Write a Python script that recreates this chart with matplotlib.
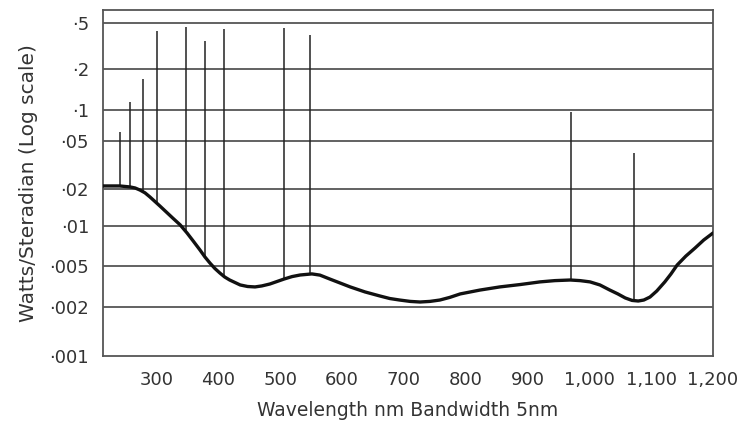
import numpy as np
import matplotlib.pyplot as plt
from matplotlib.ticker import FixedLocator, FixedFormatter

# continuum curve (nm, W/sr)
curve_nm = [213, 240, 257, 265, 273, 281, 289, 305, 326, 338, 349, 359, 370,
            378, 386, 394, 402, 410, 418, 435, 447, 459, 470, 483, 506, 519,
            532, 551, 564, 580, 613, 637, 661, 677, 693, 710, 726, 742, 758,
            774, 791, 823, 855, 888, 920, 944, 969, 985, 1001, 1017, 1033,
            1046, 1058, 1069, 1079, 1088, 1098, 1109, 1122, 1132, 1142, 1156,
            1171, 1185, 1200]
curve_w = [0.0213, 0.0213, 0.0209, 0.0205, 0.0197, 0.0187, 0.0173, 0.0146,
           0.0116, 0.0102, 0.00885, 0.00769, 0.00657, 0.00582, 0.00524,
           0.0047, 0.00425, 0.00388, 0.00363, 0.00325, 0.00314, 0.00311,
           0.00318, 0.00332, 0.00371, 0.00392, 0.00406, 0.00416, 0.00405,
           0.00371, 0.00311, 0.00278, 0.00254, 0.0024, 0.00232, 0.00225,
           0.00222, 0.00225, 0.00232, 0.00246, 0.00266, 0.00290, 0.00311,
           0.00328, 0.00348, 0.00358, 0.00363, 0.00358, 0.00348, 0.00325,
           0.00290, 0.00266, 0.00243, 0.00230, 0.00227, 0.00232, 0.00248,
           0.00284, 0.00348, 0.00416, 0.00506, 0.00591, 0.00681, 0.00783,
           0.00885]

# emission lines
line_nm = [240, 257, 278, 300, 347, 378, 409, 506, 548, 970, 1072]
line_top = [0.061, 0.115, 0.169, 0.425, 0.46, 0.348, 0.44, 0.45, 0.39, 0.096, 0.0396]
line_base = [0.0213, 0.0209, 0.0195, 0.0155, 0.0090, 0.0058, 0.0040, 0.0037, 0.0042, 0.0036, 0.0023]

yticks = [0.001, 0.002, 0.005, 0.01, 0.02, 0.05, 0.1, 0.2, 0.5]
ylabels = ['·001', '·002', '·005', '·01', '·02', '·05', '·1', '·2', '·5']
xticks = [300, 400, 500, 600, 700, 800, 900, 1000, 1100, 1200]
xlabels = ['300', '400', '500', '600', '700', '800', '900', '1,000', '1,100', '1,200']

# the printed log axis is not evenly spaced, so calibrate it against the grid
cal_log = np.log10(yticks + [0.643])
cal_pos = np.array([0, 49, 90, 129.7, 166.4, 215, 245.7, 286.7, 333, 345.7])

def fwd(v):
    return np.interp(np.log10(np.maximum(v, 1e-12)), cal_log, cal_pos)

def inv(p):
    return 10 ** np.interp(p, cal_pos, cal_log)

plt.rcParams['font.family'] = 'DejaVu Sans'
fig = plt.figure(figsize=(7.5, 4.28), dpi=100)
ax = fig.add_axes([0.1373, 0.169, 0.8134, 0.8076])
ax.set_yscale('function', functions=(fwd, inv))
ax.set_xlim(213, 1200)
ax.set_ylim(0.001, 0.643)

for y in yticks[1:]:
    ax.axhline(y, color='#555555', lw=1.3, zorder=1)
ax.vlines(line_nm, line_base, line_top, color='#222222', lw=1.1, zorder=2)
ax.plot(curve_nm, curve_w, color='#111111', lw=2.4, zorder=3,
        solid_joinstyle='round', solid_capstyle='round')

ax.yaxis.set_major_locator(FixedLocator(yticks))
ax.yaxis.set_major_formatter(FixedFormatter(ylabels))
ax.yaxis.set_minor_locator(FixedLocator([]))
ax.set_xticks(xticks)
ax.set_xticklabels(xlabels)
ax.tick_params(length=0, labelsize=13, colors='#333333')
ax.tick_params(axis='y', pad=10)
ax.tick_params(axis='x', pad=11)
for s in ax.spines.values():
    s.set_color('#555555')
    s.set_linewidth(1.3)

ax.set_ylabel('Watts/Steradian (Log scale)', fontsize=14.5, color='#333333', labelpad=8)
ax.set_xlabel('Wavelength nm Bandwidth 5nm', fontsize=13.5, color='#333333', labelpad=9)

fig.savefig('out.png', dpi=100)
